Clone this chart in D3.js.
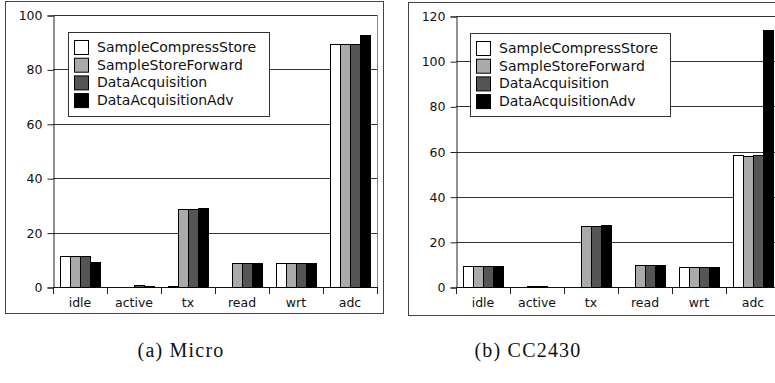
<!DOCTYPE html>
<html>
<head>
<meta charset="utf-8">
<script src="https://cdn.jsdelivr.net/npm/d3@7"></script>
<style>
  html, body { margin: 0; padding: 0; background: #fff; }
  svg { display: block; }
</style>
</head>
<body>
<svg id="chart" width="775" height="383"></svg>
<script>
// ---- data ----
const categories = ["idle", "active", "tx", "read", "wrt", "adc"];
const seriesNames = ["SampleCompressStore", "SampleStoreForward", "DataAcquisition", "DataAcquisitionAdv"];
const seriesColors = ["#ffffff", "#aaaaaa", "#555555", "#000000"];

const microSampleCompressStore = [11.3, 0.1, 0.2, 0.1, 9.0, 89.5];
const microSampleStoreForward  = [11.5, 0.1, 28.7, 8.8, 9.0, 89.5];
const microDataAcquisition     = [11.5, 0.6, 28.5, 8.8, 9.0, 89.5];
const microDataAcquisitionAdv  = [9.3, 0.3, 29.0, 8.7, 9.0, 92.5];

const ccSampleCompressStore = [9.2, 0.0, 0.1, 0.1, 9.0, 58.3];
const ccSampleStoreForward  = [9.5, 0.3, 27.0, 9.6, 9.0, 58.0];
const ccDataAcquisition     = [9.5, 0.3, 27.2, 9.6, 8.9, 58.3];
const ccDataAcquisitionAdv  = [9.3, 0.1, 27.6, 9.7, 8.9, 113.7];

const microTicks = [0, 20, 40, 60, 80, 100];
const ccTicks = [0, 20, 40, 60, 80, 100, 120];

const captions = ["(a) Micro", "(b) CC2430"];

const svg = d3.select("#chart");

function drawPanel(cfg) {
  const g = svg.append("g");
  // outer frame
  g.append("rect")
    .attr("x", cfg.box[0] + 0.5).attr("y", cfg.box[1] + 0.5)
    .attr("width", cfg.box[2]).attr("height", cfg.box[3])
    .attr("fill", "#fff").attr("stroke", "#444").attr("stroke-width", 1);

  const x0 = d3.scaleBand().domain(categories).range([cfg.plot.left, cfg.plot.right]).padding(0);
  const x1 = d3.scaleBand().domain(seriesNames).range([7, 47]).padding(0);
  const y = d3.scaleLinear().domain([0, cfg.yMax]).range([cfg.plot.bottom, cfg.plot.top]);

  // gridlines
  g.append("g").selectAll("line").data(cfg.ticks.filter(t => t > 0)).join("line")
    .attr("x1", cfg.plot.left).attr("x2", cfg.plot.right)
    .attr("y1", d => Math.round(y(d)) + 0.5).attr("y2", d => Math.round(y(d)) + 0.5)
    .attr("stroke", "#333").attr("stroke-width", 1);

  // right frame
  g.append("line")
    .attr("x1", cfg.plot.right + 0.5).attr("x2", cfg.plot.right + 0.5)
    .attr("y1", y(cfg.yMax)).attr("y2", y(0))
    .attr("stroke", "#888");

  // y axis
  const yAxis = g.append("g")
    .attr("transform", `translate(${cfg.plot.left + 0.5},0.5)`)
    .call(d3.axisLeft(y).tickValues(cfg.ticks).tickSize(6).tickPadding(5).tickFormat(d3.format("d")));
  yAxis.select(".domain").attr("stroke", "#222");
  yAxis.selectAll(".tick line").attr("stroke", "#222");
  yAxis.selectAll("text").attr("font-family", "DejaVu Sans").attr("font-size", 12.5).attr("fill", "#111");

  // x axis: ticks at boundaries
  const xAxisG = g.append("g");
  xAxisG.append("line")
    .attr("x1", cfg.plot.left).attr("x2", cfg.plot.right)
    .attr("y1", Math.round(y(0)) + 0.5).attr("y2", Math.round(y(0)) + 0.5)
    .attr("stroke", "#111");
  const bounds = categories.map(c => x0(c)).concat([x0(categories[categories.length - 1]) + x0.bandwidth()]);
  xAxisG.selectAll("line.tk").data(bounds).join("line").attr("class", "tk")
    .attr("x1", d => Math.round(d) + 0.5).attr("x2", d => Math.round(d) + 0.5)
    .attr("y1", Math.round(y(0))).attr("y2", Math.round(y(0)) + 7)
    .attr("stroke", "#222");
  xAxisG.selectAll("text").data(categories).join("text")
    .attr("x", d => x0(d) + x0.bandwidth() / 2)
    .attr("y", cfg.plot.bottom + 20)
    .attr("text-anchor", "middle")
    .attr("font-family", "DejaVu Sans").attr("font-size", 12.5).attr("fill", "#111")
    .text(d => d);

  // bars
  const groups = g.append("g").selectAll("g").data(categories).join("g")
    .attr("transform", d => `translate(${x0(d)},0)`);
  groups.selectAll("rect")
    .data((c, ci) => seriesNames.map((s, si) => ({ s, si, v: cfg.series[si][ci] })))
    .join("rect")
    .attr("x", d => Math.round(x1(d.s)) + 0.5)
    .attr("y", d => Math.round(y(d.v)) + 0.5)
    .attr("width", x1.bandwidth())
    .attr("height", d => Math.max(0, Math.round(y(0)) - Math.round(y(d.v))))
    .attr("fill", d => seriesColors[d.si])
    .attr("stroke", "#000").attr("stroke-width", 1);

  // legend
  const lg = g.append("g");
  lg.append("rect")
    .attr("x", cfg.legend.x + 0.5).attr("y", cfg.legend.y + 0.5)
    .attr("width", cfg.legend.w).attr("height", cfg.legend.h)
    .attr("fill", "#fff").attr("stroke", "#333");
  const rows = lg.selectAll("g").data(seriesNames).join("g")
    .attr("transform", (d, i) => `translate(${cfg.legend.x + 6},${cfg.legend.y + 8 + i * 17.7})`);
  rows.append("rect")
    .attr("x", 0.5).attr("y", 0.5).attr("width", 14).attr("height", 14)
    .attr("fill", (d, i) => seriesColors[i]).attr("stroke", "#000");
  rows.append("text")
    .attr("x", 23).attr("y", 12)
    .attr("font-family", "DejaVu Sans").attr("font-size", 14).attr("fill", "#111")
    .text(d => d);

  // caption
  svg.append("text")
    .attr("x", cfg.captionX).attr("y", 357)
    .attr("text-anchor", "middle")
    .attr("font-family", "Liberation Serif").attr("font-size", 20)
    .attr("letter-spacing", 1.2)
    .attr("fill", "#111")
    .text(cfg.caption);
}

drawPanel({
  box: [5, 1, 378, 312],
  plot: { left: 53, right: 377, top: 15, bottom: 287 },
  yMax: 100,
  ticks: microTicks,
  series: [microSampleCompressStore, microSampleStoreForward, microDataAcquisition, microDataAcquisitionAdv],
  legend: { x: 68, y: 32, w: 201, h: 84 },
  caption: captions[0],
  captionX: 181
});

drawPanel({
  box: [408, 2, 378, 313],
  plot: { left: 456, right: 780, top: 16, bottom: 287 },
  yMax: 120,
  ticks: ccTicks,
  series: [ccSampleCompressStore, ccSampleStoreForward, ccDataAcquisition, ccDataAcquisitionAdv],
  legend: { x: 470, y: 33, w: 200, h: 83 },
  caption: captions[1],
  captionX: 528
});
</script>
</body>
</html>
